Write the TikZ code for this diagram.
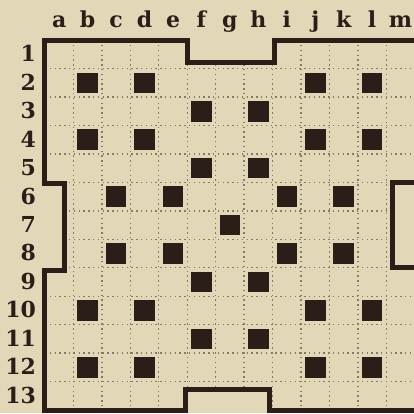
\documentclass[tikz,border=0pt]{standalone}
\usepackage{fontspec}
\newfontfamily\boardfont{DejaVu Serif}
\usepackage{tikz}
\definecolor{paper}{RGB}{226,215,182}
\definecolor{ink}{RGB}{43,30,25}
\definecolor{gridgray}{RGB}{135,122,98}
\tikzset{
  boardedge/.style={draw=ink,line width=2.5pt,line join=miter},
  gridline/.style={draw=gridgray,line width=0.7pt,dash pattern=on 0.7pt off 1.7pt},
  darksq/.style={rectangle,fill=ink,minimum size=0.36cm,inner sep=0pt},
  collabel/.style={font=\boardfont\bfseries\fontsize{11}{13}\selectfont,text=ink,anchor=base,inner sep=0pt},
  rowlabel/.style={font=\boardfont\bfseries\fontsize{11}{13}\selectfont,text=ink,anchor=base east,inner sep=0pt}
}

\begin{document}
\begin{tikzpicture}[x=0.5cm,y=-0.5cm]
  \fill[paper] (-1.58,-1.41) rectangle (12.97,13.11);
  \useasboundingbox (-1.58,-1.41) rectangle (12.97,13.11);
  % labels and cell centres
  \foreach \l [count=\c from 0] in {a,...,m} {
    \node[collabel] (col-\l) at (\c+0.5,-0.46) {\l};
    \foreach \r in {1,...,13}
      \coordinate (\l\r) at (\c+0.5,\r-0.5);
  }
  \foreach \r in {1,...,13}
    \node[rowlabel] (row-\r) at (-0.3,\r-0.24) {\r};
  % dotted cells
  \begin{scope}
    \clip (0,0) -- (5,0) -- (5,0.79) -- (8.07,0.79) -- (8.07,0) -- (13.2,0)
      -- (13.2,5) -- (12.2,5) -- (12.2,8) -- (13.2,8) -- (13.2,13)
      -- (7.9,13) -- (7.9,12.28) -- (4.95,12.28) -- (4.95,13) -- (0,13)
      -- (0,8.1) -- (0.69,8.1) -- (0.69,5.05) -- (0,5.05) -- cycle;
    \foreach \i in {1,...,12} {
      \draw[gridline] (0,\i) -- (13.2,\i);
      \draw[gridline] (\i,0) -- (\i,13);
    }
  \end{scope}
  \foreach \s in {b2,d2,j2,l2,f3,h3,b4,d4,j4,l4,f5,h5,
                  c6,e6,i6,k6,g7,c8,e8,i8,k8,f9,h9,
                  b10,d10,j10,l10,f11,h11,b12,d12,j12,l12}
    \node[darksq] (sq-\s) at (\s) {};
  \draw[boardedge] (0,0) -- (5,0) -- (5,0.79) -- (8.07,0.79) -- (8.07,0) -- (13.2,0)
    -- (13.2,5) -- (12.2,5) -- (12.2,8) -- (13.2,8) -- (13.2,13)
    -- (7.9,13) -- (7.9,12.28) -- (4.95,12.28) -- (4.95,13) -- (0,13)
    -- (0,8.1) -- (0.69,8.1) -- (0.69,5.05) -- (0,5.05) -- cycle;
\end{tikzpicture}
\end{document}
